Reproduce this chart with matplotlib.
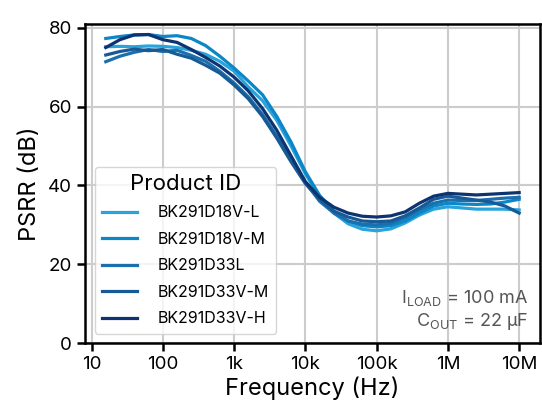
import matplotlib
matplotlib.use('Agg')
import numpy as np
from matplotlib import pyplot as plt

# frequency points (Hz), 0.2 decade steps from ~16 Hz to 10 MHz
freq = [10 ** (1.2 + 0.2 * i) for i in range(30)]

psrr_18v_l = [75.2, 75.3, 75.2, 75.4, 75.3, 75.0, 74.3, 73.3, 71.5, 69.0,
              65.0, 61.5, 56.5, 50.0, 43.0, 37.0, 33.0, 30.3, 28.9, 28.5,
              29.0, 30.5, 32.5, 34.0, 34.6, 34.3, 34.0, 34.0, 34.0, 33.8]
psrr_18v_m = [77.3, 77.8, 78.2, 78.3, 77.8, 78.0, 77.3, 75.5, 72.8, 69.8,
              66.5, 63.0, 57.5, 51.0, 43.5, 37.5, 33.5, 31.0, 29.8, 29.5,
              29.8, 31.0, 33.0, 34.8, 35.5, 35.3, 35.2, 35.3, 35.8, 36.5]
psrr_33l = [71.4, 72.8, 73.8, 74.5, 74.0, 74.3, 73.0, 71.5, 69.0, 66.0,
            62.5, 58.0, 52.5, 46.5, 40.8, 36.0, 33.0, 31.0, 30.2, 30.0,
            30.4, 31.8, 33.8, 35.5, 36.3, 36.2, 36.2, 36.5, 36.8, 37.0]
psrr_33v_m = [73.1, 74.0, 74.6, 74.2, 74.5, 73.3, 72.3, 70.5, 68.5, 65.5,
              62.0, 57.5, 52.0, 46.0, 40.5, 36.5, 33.5, 32.0, 31.0, 30.8,
              31.0, 32.3, 34.3, 36.5, 37.3, 36.8, 36.3, 35.8, 34.8, 33.0]
psrr_33v_h = [75.0, 77.0, 78.2, 78.3, 77.0, 76.3, 74.5, 72.5, 70.3, 67.5,
              64.0, 59.5, 54.0, 47.5, 41.0, 37.0, 34.5, 33.0, 32.2, 32.0,
              32.3, 33.3, 35.5, 37.3, 38.0, 37.8, 37.6, 37.8, 38.0, 38.2]

labels = ['BK291D18V-L', 'BK291D18V-M', 'BK291D33L', 'BK291D33V-M', 'BK291D33V-H']
colors = ['#29a3dc', '#0b86c6', '#1a70ae', '#165a96', '#0d3470']
series = [psrr_18v_l, psrr_18v_m, psrr_33l, psrr_33v_m, psrr_33v_h]

xticks = [1e1, 1e2, 1e3, 1e4, 1e5, 1e6, 1e7]
xticklabels = ['10', '100', '1k', '10k', '100k', '1M', '10M']
yticks = [0, 20, 40, 60, 80]

plt.rcParams['font.family'] = ['Inter', 'DejaVu Sans']

fig = plt.figure(figsize=(5.42, 4.19), dpi=100)
ax = fig.add_axes([0.157, 0.181, 0.839, 0.762])

for vals, lab, col in zip(series, labels, colors):
    ax.plot(freq, vals, color=col, lw=2.3, label=lab)

ax.set_xscale('log')
ax.set_ylim(0, 81)
ax.set_xticks(xticks)
ax.set_xticklabels(xticklabels)
ax.minorticks_off()
ax.set_yticks(yticks)
ax.grid(True, color='#cccccc', lw=1.5)
ax.set_axisbelow(True)
for sp in ax.spines.values():
    sp.set_linewidth(1.8)
ax.tick_params(axis='both', labelsize=13.5, length=6, width=1.8)
ax.set_xlabel('Frequency (Hz)', fontsize=17, labelpad=2)
ax.set_ylabel('PSRR (dB)', fontsize=17, labelpad=5)

leg = ax.legend(title='Product ID', loc='lower left', fontsize=11.5,
                title_fontsize=16, frameon=True, framealpha=0.8,
                edgecolor='#cccccc', borderpad=0.45, labelspacing=0.72,
                handlelength=2.2, handletextpad=1.3, borderaxespad=0.6)

ax.text(0.975, 0.11, r'I$_{\mathregular{LOAD}}$ = 100 mA', transform=ax.transAxes,
        ha='right', va='bottom', fontsize=13, color='#555555')
ax.text(0.975, 0.035, r'C$_{\mathregular{OUT}}$ = 22 µF', transform=ax.transAxes,
        ha='right', va='bottom', fontsize=13, color='#555555')

fig.savefig('out.png', dpi=100)
